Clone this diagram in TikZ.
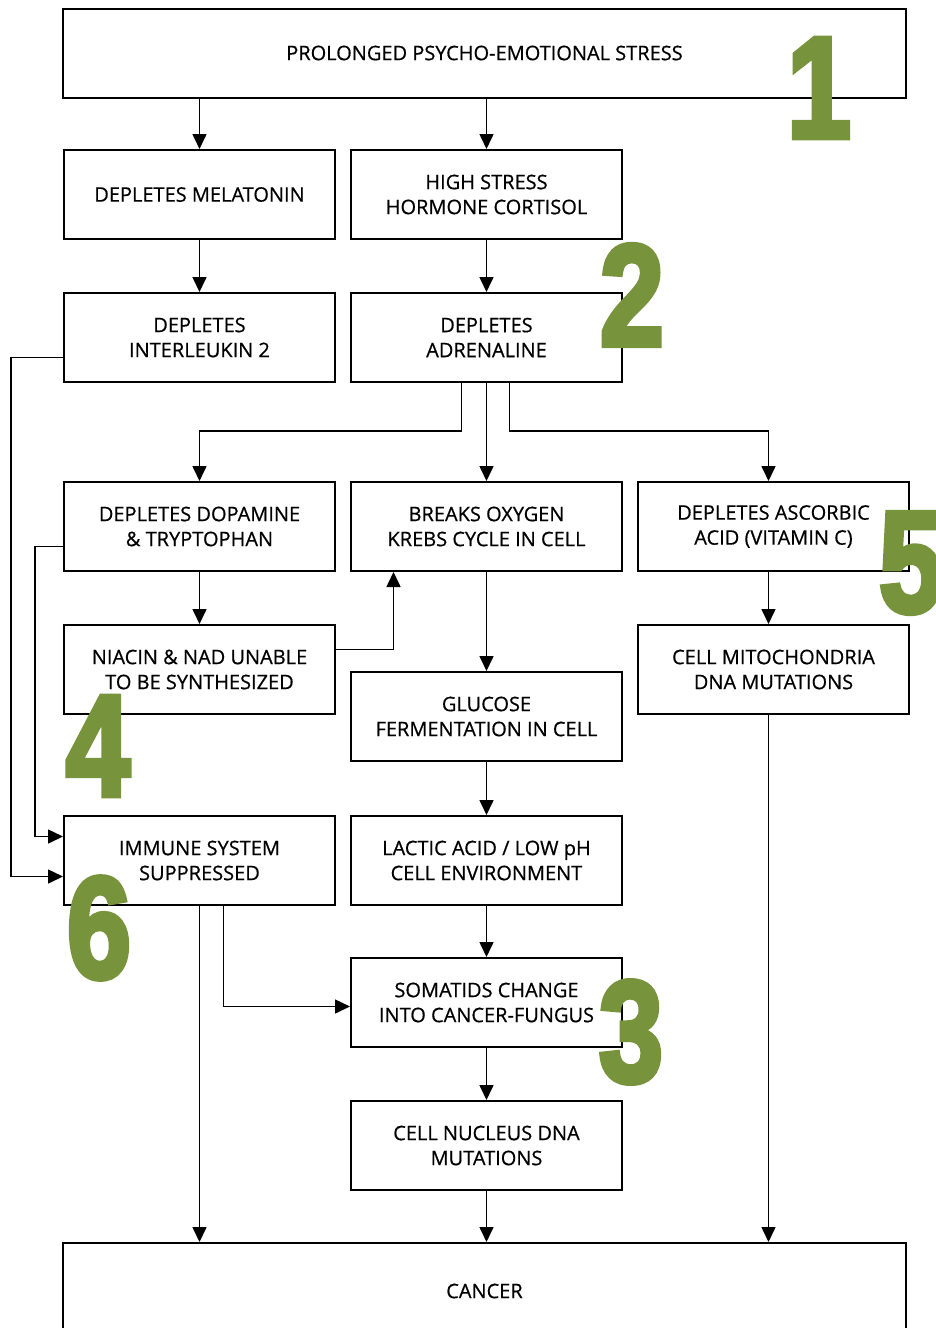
\documentclass[tikz,border=0pt]{standalone}
\usepackage{fontspec}
\setmainfont{Open Sans}[FakeBold=0.6]
\newfontfamily\numfont{Liberation Sans}[FakeBold=4]
\usetikzlibrary{arrows.meta}
\definecolor{numgreen}{RGB}{119,147,60}
\tikzset{
  box/.style={draw, line width=2pt, minimum width=271pt, minimum height=89pt, align=center, inner sep=0pt, font=\fontsize{20}{25}\selectfont},
  wide/.style={box, minimum width=843pt},
  arr/.style={line width=1.6pt, -{Triangle[length=15pt,width=14pt]}},
  big/.style={text=numgreen, inner sep=0pt, xscale=0.8, font=\numfont\bfseries\fontsize{144}{144}\selectfont}
}
\begin{document}
\begin{tikzpicture}[x=1pt,y=-1pt]
\useasboundingbox (0,0) rectangle (936,1328);
\node[wide] (stress) at (484.5,53) {PROLONGED PSYCHO-EMOTIONAL STRESS};
\node[box] (mel) at (199.5,194.5) {DEPLETES MELATONIN};
\node[box] (cort) at (486.5,194.5) {HIGH STRESS\\HORMONE CORTISOL};
\node[box] (il) at (199.5,337.5) {DEPLETES\\INTERLEUKIN 2};
\node[box] (adr) at (486.5,337.5) {DEPLETES\\ADRENALINE};
\node[box] (dop) at (199.5,526.5) {DEPLETES DOPAMINE\\\& TRYPTOPHAN};
\node[box] (oxy) at (486.5,526.5) {BREAKS OXYGEN\\KREBS CYCLE IN CELL};
\node[box] (asc) at (773.5,526.5) {DEPLETES ASCORBIC\\ACID (VITAMIN C)};
\node[box] (nia) at (199.5,669.5) {NIACIN \& NAD UNABLE\\TO BE SYNTHESIZED};
\node[box] (mit) at (773.5,669.5) {CELL MITOCHONDRIA\\DNA MUTATIONS};
\node[box] (glu) at (486.5,716.5) {GLUCOSE\\FERMENTATION IN CELL};
\node[box] (imm) at (199.5,860.5) {IMMUNE SYSTEM\\SUPPRESSED};
\node[box] (lac) at (486.5,860.5) {LACTIC ACID / LOW pH\\CELL ENVIRONMENT};
\node[box] (som) at (486.5,1002.5) {SOMATIDS CHANGE\\INTO CANCER-FUNGUS};
\node[box] (nuc) at (486.5,1145.5) {CELL NUCLEUS DNA\\MUTATIONS};
\node[wide, minimum height=96pt] (can) at (484.5,1291) {CANCER};
\coordinate (split) at (485,431);

\draw[arr] (stress.south -| mel.north) -- (mel.north);
\draw[arr] (stress.south -| cort.north) -- (cort.north);
\draw[arr] (mel) -- (il);
\draw[arr] (cort) -- (adr);
\draw[arr] ([xshift=-25pt]adr.south) |- (split -| dop.north) -- (dop.north);
\draw[arr] (adr) -- (oxy);
\draw[arr] ([xshift=23pt]adr.south) |- ([xshift=-5pt]split -| asc.north) -- ([xshift=-5pt]asc.north);
\draw[arr] (dop) -- (nia);
\draw[arr] ([yshift=20pt]nia.east) -| ([xshift=-93pt]oxy.south);
\draw[arr] (oxy) -- (glu);
\draw[arr] (glu) -- (lac);
\draw[arr] (lac) -- (som);
\draw[arr] (som) -- (nuc);
\draw[arr] (nuc) -- (nuc |- can.north);
\draw[arr] ([xshift=-5pt]asc.south) -- ([xshift=-5pt]mit.north);
\draw[arr] ([xshift=-5pt]mit.south) -- ([xshift=-5pt]mit.south |- can.north);
\draw[arr] ([yshift=-20pt]il.west) -| ([xshift=-52pt,yshift=-16pt]imm.west) -- ([yshift=-16pt]imm.west);
\draw[arr] ([yshift=-20pt]dop.west) -| ([xshift=-28pt,yshift=24pt]imm.west) -- ([yshift=24pt]imm.west);
\draw[arr] (imm) -- (imm |- can.north);
\draw[arr] ([xshift=24pt]imm.south) |- ([yshift=-4pt]som.west);

\node[big] (n1) at (819,88) {1};
\node[big] (n2) at (632,295) {2};
\node[big] (n3) at (631,1032) {3};
\node[big] (n4) at (98,746) {4};
\node[big] (n5) at (911,563) {5};
\node[big] (n6) at (99,928) {6};
\end{tikzpicture}
\end{document}
